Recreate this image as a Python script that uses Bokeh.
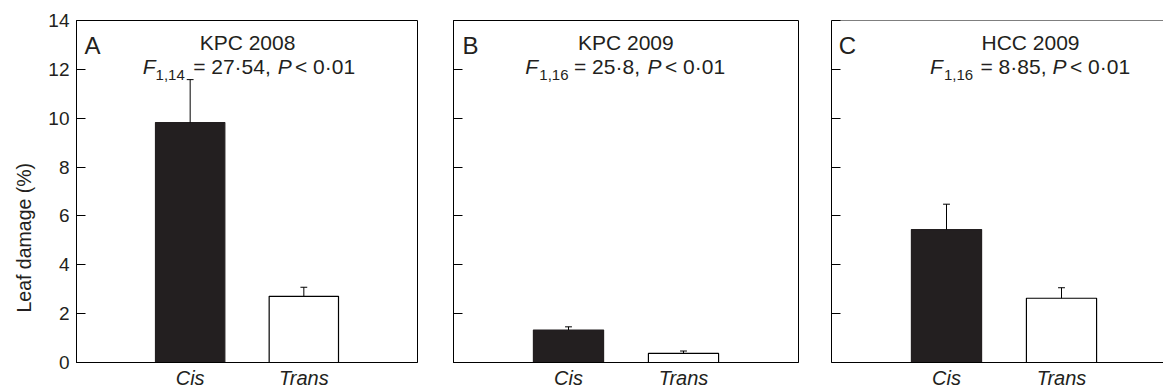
from bokeh.plotting import figure
from bokeh.models import Label, FixedTicker, Span, Range1d, Title
from bokeh.layouts import row
from bokeh.embed import file_html
from bokeh.resources import INLINE

# ---- data ----
panel_letters = ["A", "B", "C"]
sites = ["KPC 2008", "KPC 2009", "HCC 2009"]
categories = ["Cis", "Trans"]
cis_mean = [9.82, 1.33, 5.44]
cis_err = [1.76, 0.13, 1.04]
trans_mean = [2.71, 0.37, 2.63]
trans_err = [0.37, 0.10, 0.43]
f_df = ["1,14", "1,16", "1,16"]
f_value = ["27·54,", "25·8,", "8·85,"]
p_text = ["0·01", "0·01", "0·01"]
y_ticks = [0, 2, 4, 6, 8, 10, 12, 14]

# ---- style / layout ----
FONT = "Liberation Sans"
INK = "#231f20"
FRAME_H = 345
TOP = 20
BOTTOM = 26
PX_X = 115.0                 # px per x unit (x range 0..3 over 345 px)
PX_Y = FRAME_H / 14.0
frame_widths = [345, 345, 332]
border_left = [72, 35, 32]
border_right = [1, 1, 0]

# text piece offsets (px from frame left) measured from the layout
offsets = [
    dict(letter=8, title=173, F=67, sub=80, eq=118, P=203.5, lt=221),
    dict(letter=9, title=172.3, F=71.8, sub=85.8, eq=120.5, P=194, lt=211.5),
    dict(letter=7.3, title=199, F=98.5, sub=112.5, eq=149, P=221, lt=238.5),
]


def ydat(dy):
    return 14 - dy / PX_Y


def xdat(dx):
    return dx / PX_X


def lab(p, text, dx, dy, size, style="normal", align="left"):
    p.add_layout(Label(x=xdat(dx), y=ydat(dy), text=text, text_font=FONT,
                       text_font_size=f"{size}px", text_font_style=style,
                       text_color=INK, text_align=align, text_baseline="alphabetic"))


figs = []
for i in range(3):
    xr_end = frame_widths[i] / PX_X
    p = figure(width=border_left[i] + frame_widths[i] + border_right[i],
               height=TOP + FRAME_H + BOTTOM,
               x_range=Range1d(0, xr_end), y_range=Range1d(0, 14),
               output_backend="svg", toolbar_location=None,
               min_border_left=border_left[i], min_border_right=border_right[i],
               min_border_top=TOP, min_border_bottom=BOTTOM)
    p.grid.visible = False
    p.background_fill_color = "white"
    p.border_fill_color = "white"
    if i < 2:
        p.outline_line_color = "black"
        p.outline_line_width = 1
    else:
        p.outline_line_color = None
        p.add_layout(Span(location=14, dimension="width", line_color="black", line_width=1))

    # bars
    xs = [1, 2]
    tops = [cis_mean[i], trans_mean[i]]
    errs = [cis_err[i], trans_err[i]]
    p.vbar(x=xs, top=tops, bottom=0, width=0.61,
           fill_color=[INK, "white"], line_color=[INK, "black"], line_width=1.2)
    uppers = [t + e for t, e in zip(tops, errs)]
    p.segment(x0=xs, y0=tops, x1=xs, y1=uppers, line_color="black", line_width=1)
    p.segment(x0=[x - 0.03 for x in xs], y0=uppers, x1=[x + 0.03 for x in xs], y1=uppers,
              line_color="black", line_width=1)

    # y axis
    ya = p.yaxis[0]
    ya.ticker = FixedTicker(ticks=y_ticks)
    ya.minor_tick_line_color = None
    ya.major_tick_in = 9
    ya.major_tick_out = 0
    ya.major_tick_line_color = "black"
    ya.axis_line_color = "black"
    ya.major_label_text_font = FONT
    ya.major_label_text_font_size = "19px"
    ya.major_label_text_color = INK
    ya.major_label_standoff = 7
    if i > 0:
        ya.major_label_overrides = {t: "" for t in y_ticks}

    # x axis
    xa = p.xaxis[0]
    xa.ticker = FixedTicker(ticks=xs)
    xa.major_label_overrides = {1: categories[0], 2: categories[1]}
    xa.major_tick_in = 0
    xa.major_tick_out = 0
    xa.minor_tick_line_color = None
    xa.axis_line_color = "black"
    xa.major_label_text_font = FONT
    xa.major_label_text_font_size = "20px"
    xa.major_label_text_font_style = "italic"
    xa.major_label_text_color = INK
    xa.major_label_standoff = 4

    o = offsets[i]
    lab(p, panel_letters[i], o["letter"], 25.5, 24)
    lab(p, sites[i], o["title"], 22.3, 21, align="center")
    lab(p, "F", o["F"], 46.6, 21, style="italic")
    lab(p, f_df[i], o["sub"], 54.5, 15)
    lab(p, "= " + f_value[i], o["eq"], 46.6, 21)
    lab(p, "P", o["P"], 46.6, 21, style="italic")
    lab(p, "< " + p_text[i], o["lt"], 46.6, 21)
    if i == 0:
        p.add_layout(Title(text="Leaf damage (%)", align="left", offset=50,
                           text_font=FONT, text_font_size="19.5px", text_font_style="normal",
                           text_color=INK, standoff=21), "left")
    figs.append(p)

layout = row(*figs, spacing=0)
open("out.html", "w").write(file_html(layout, INLINE))
